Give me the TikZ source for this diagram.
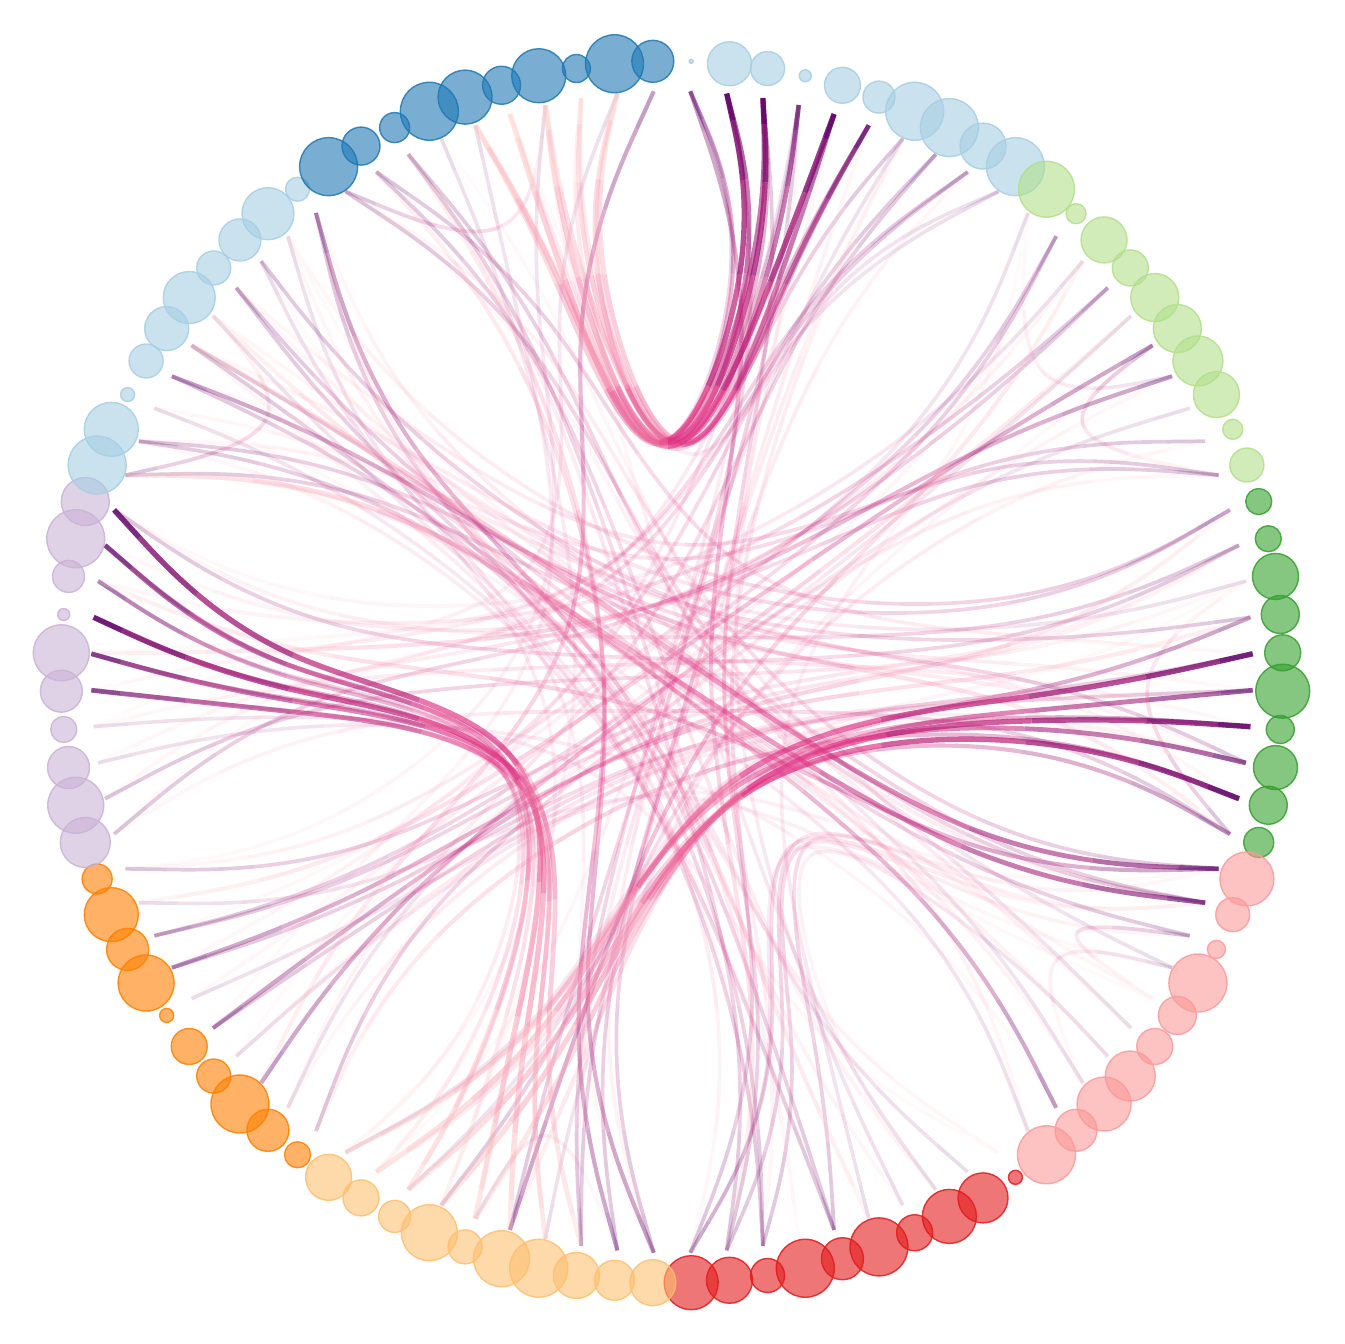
\documentclass[tikz,border=0pt]{standalone}
\begin{document}
\definecolor{grp0}{HTML}{A6CEE3}
\definecolor{grp1}{HTML}{B2DF8A}
\definecolor{grp2}{HTML}{33A02C}
\definecolor{grp3}{HTML}{FB9A99}
\definecolor{grp4}{HTML}{E31A1C}
\definecolor{grp5}{HTML}{FDBF6F}
\definecolor{grp6}{HTML}{FF7F00}
\definecolor{grp7}{HTML}{CAB2D6}
\definecolor{grp8}{HTML}{A6CEE3}
\definecolor{grp9}{HTML}{1F78B4}
\definecolor{g0}{RGB}{99,4,106}
\definecolor{g1}{RGB}{129,13,111}
\definecolor{g2}{RGB}{160,22,116}
\definecolor{g3}{RGB}{190,31,120}
\definecolor{g4}{RGB}{222,48,130}
\definecolor{g5}{RGB}{234,95,150}
\definecolor{g6}{RGB}{244,135,170}
\definecolor{g7}{RGB}{249,162,180}
\definecolor{g8}{RGB}{251,183,187}
\definecolor{g9}{RGB}{252,200,196}
\newcount\hpidx
\def\hbet{0.76}
\newcommand\hpiece[4]{%
  \pgfmathsetmacro\hptt{(\the\hpidx+0.5)/\hptotal}%
  \pgfmathtruncatemacro\hzci{min(9,int(\hptt*10))}%
  \pgfmathsetmacro\hop{\healpha*(1-0.58*\hptt)}%
  \draw[line width=\hewpt pt, draw=g\hzci, draw opacity=\hop] #1 .. controls #2 and #3 .. #4;%
  \global\advance\hpidx by 1\relax}
\newcommand\hbez[8]{%
  \pgfmathsetmacro\zax{(#1+#3)/2}\pgfmathsetmacro\zay{(#2+#4)/2}%
  \pgfmathsetmacro\zbx{(#3+#5)/2}\pgfmathsetmacro\zby{(#4+#6)/2}%
  \pgfmathsetmacro\zcx{(#5+#7)/2}\pgfmathsetmacro\zcy{(#6+#8)/2}%
  \pgfmathsetmacro\zdx{(\zax+\zbx)/2}\pgfmathsetmacro\zdy{(\zay+\zby)/2}%
  \pgfmathsetmacro\zex{(\zbx+\zcx)/2}\pgfmathsetmacro\zey{(\zby+\zcy)/2}%
  \pgfmathsetmacro\zmx{(\zdx+\zex)/2}\pgfmathsetmacro\zmy{(\zdy+\zey)/2}%
  \hpiece{(#1,#2)}{(\zax,\zay)}{(\zdx,\zdy)}{(\zmx,\zmy)}%
  \hpiece{(\zmx,\zmy)}{(\zex,\zey)}{(\zcx,\zcy)}{(#7,#8)}}
\newcommand\hbsp[6]{%
  \pgfmathsetmacro\zcax{(2*#1+#3)/3}\pgfmathsetmacro\zcay{(2*#2+#4)/3}%
  \pgfmathsetmacro\zcbx{(#1+2*#3)/3}\pgfmathsetmacro\zcby{(#2+2*#4)/3}%
  \pgfmathsetmacro\zenx{(#1+4*#3+#5)/6}\pgfmathsetmacro\zeny{(#2+4*#4+#6)/6}%
  \hbez{\zsx}{\zsy}{\zcax}{\zcay}{\zcbx}{\zcby}{\zenx}{\zeny}%
  \let\zsx\zenx\let\zsy\zeny}
\newcommand\hedge[3]{%
  \pgfmathtruncatemacro\zgs{int((#1+0.5)/10)}%
  \pgfmathtruncatemacro\zgt{int((#2+0.5)/10)}%
  \pgfmathsetmacro\pax{672+581*sin(1.8+3.6*#1)}%
  \pgfmathsetmacro\pay{672-581*cos(1.8+3.6*#1)}%
  \pgfmathsetmacro\pbx{672+581*sin(1.8+3.6*#2)}%
  \pgfmathsetmacro\pby{672-581*cos(1.8+3.6*#2)}%
  \pgfmathsetmacro\gsx{672+387*sin(18+36*\zgs)}%
  \pgfmathsetmacro\gsy{672-387*cos(18+36*\zgs)}%
  \pgfmathsetmacro\gtx{672+387*sin(18+36*\zgt)}%
  \pgfmathsetmacro\gty{672-387*cos(18+36*\zgt)}%
  \ifcase#3\relax\or\def\healpha{0.14}\def\hewpt{0.9}%
  \or\def\healpha{0.24}\def\hewpt{0.93}%
  \or\def\healpha{0.4}\def\hewpt{1.03}%
  \or\def\healpha{0.66}\def\hewpt{1.2}%
  \or\def\healpha{0.88}\def\hewpt{1.35}\fi
  \global\hpidx=0\relax
  \ifnum\zgs=\zgt\relax
    \def\hptotal{6}%
    \pgfmathsetmacro\qbx{\hbet*\gsx+(1-\hbet)*(\pax+\pbx)/2}%
    \pgfmathsetmacro\qby{\hbet*\gsy+(1-\hbet)*(\pay+\pby)/2}%
    \pgfmathsetmacro\zsx{(5*\pax+\qbx)/6}\pgfmathsetmacro\zsy{(5*\pay+\qby)/6}%
    \hpiece{(e#1)}{(e#1)}{(\zsx,\zsy)}{(\zsx,\zsy)}%
    \hbsp{\pax}{\pay}{\qbx}{\qby}{\pbx}{\pby}%
    \hbsp{\qbx}{\qby}{\pbx}{\pby}{\pbx}{\pby}%
    \hpiece{(\zsx,\zsy)}{(\zsx,\zsy)}{(e#2)}{(e#2)}%
  \else
    \def\hptotal{10}%
    \pgfmathsetmacro\qbx{\hbet*\gsx+(1-\hbet)*(0.75*\pax+0.25*\pbx)}%
    \pgfmathsetmacro\qby{\hbet*\gsy+(1-\hbet)*(0.75*\pay+0.25*\pby)}%
    \pgfmathsetmacro\qcx{\hbet*672+(1-\hbet)*(0.5*\pax+0.5*\pbx)}%
    \pgfmathsetmacro\qcy{\hbet*672+(1-\hbet)*(0.5*\pay+0.5*\pby)}%
    \pgfmathsetmacro\qdx{\hbet*\gtx+(1-\hbet)*(0.25*\pax+0.75*\pbx)}%
    \pgfmathsetmacro\qdy{\hbet*\gty+(1-\hbet)*(0.25*\pay+0.75*\pby)}%
    \pgfmathsetmacro\zsx{(5*\pax+\qbx)/6}\pgfmathsetmacro\zsy{(5*\pay+\qby)/6}%
    \hpiece{(e#1)}{(e#1)}{(\zsx,\zsy)}{(\zsx,\zsy)}%
    \hbsp{\pax}{\pay}{\qbx}{\qby}{\qcx}{\qcy}%
    \hbsp{\qbx}{\qby}{\qcx}{\qcy}{\qdx}{\qdy}%
    \hbsp{\qcx}{\qcy}{\qdx}{\qdy}{\pbx}{\pby}%
    \hbsp{\qdx}{\qdy}{\pbx}{\pby}{\pbx}{\pby}%
    \hpiece{(\zsx,\zsy)}{(\zsx,\zsy)}{(e#2)}{(e#2)}%
  \fi}
\begin{tikzpicture}[x=0.25pt,y=-0.25pt,
  bub/.style={circle, inner sep=0pt, outer sep=0pt, line width=0.35pt, fill opacity=0.6, draw opacity=0.85}]
\useasboundingbox (0,0) rectangle (1344,1344);
% edge end points
\foreach \k in {0,...,99}{%
  \pgfmathsetmacro\exx{672+581*sin(1.8+3.6*\k)}%
  \pgfmathsetmacro\eyy{672-581*cos(1.8+3.6*\k)}%
  \coordinate (e\k) at (\exx,\eyy);}
% edges, faint to strong
\foreach \sa/\ta in {9/95, 49/33, 33/37, 36/42, 16/10, 14/60, 55/51, 3/63, 5/70, 6/58, 9/75, 10/67, 12/79, 17/64, 22/83, 33/88, 35/93, 37/90, 39/82, 41/87, 42/97, 43/1, 44/10, 53/15, 57/22, 59/24, 61/11, 63/27, 65/30, 68/34, 72/38, 73/40, 82/45, 85/47, 87/50, 88/56, 93/59, 94/64, 96/69, 98/73}{\hedge{\sa}{\ta}{1}}
\foreach \sa/\ta in {1/50, 2/47, 3/52, 4/95, 7/66, 8/71, 6/94, 3/95, 5/94, 0/96, 77/59, 74/55, 79/26, 71/22, 70/12, 24/61, 25/63, 27/85, 23/82, 29/22, 21/73, 20/88, 49/31, 48/30, 47/32, 45/31, 31/86, 32/34, 11/65, 13/72, 15/19, 18/81, 19/78, 50/5, 52/8, 56/18, 60/16, 67/19, 69/21, 45/88, 47/89, 48/3, 49/6, 80/85, 80/27, 81/25, 83/36, 84/31, 86/37, 86/43, 89/49, 90/96, 90/35, 91/42, 92/39, 92/46, 81/34, 84/40, 87/28, 91/24, 11/69, 13/77, 7/61, 8/74, 19/86, 21/79, 20/84, 32/80, 30/90, 31/89, 29/70, 66/27, 64/25, 67/21, 48/92, 47/84, 45/81, 52/1, 51/6, 54/4}{\hedge{\sa}{\ta}{2}}
\foreach \sa/\ta in {0/97, 0/48, 5/97, 2/98, 78/53, 77/56, 76/58, 75/57, 26/59, 28/60, 23/54, 29/58, 30/77, 38/85, 15/68, 16/75, 50/91, 51/92, 54/12, 62/14, 64/20, 66/23, 83/29, 89/44, 99/62}{\hedge{\sa}{\ta}{3}}
\foreach \sa/\ta in {1/98, 2/94, 3/97, 4/98, 5/96, 78/57, 75/52, 74/53, 25/55, 27/59, 30/84, 31/80}{\hedge{\sa}{\ta}{4}}
\foreach \sa/\ta in {1/95, 2/96, 4/94, 79/55, 76/54, 24/58, 26/56, 28/57}{\hedge{\sa}{\ta}{5}}
% bubbles
\foreach \k/\r in {0/2,1/22,2/17,3/6,4/18,5/16,6/29,7/29,8/23,9/29,
  10/28,11/10,12/23,13/18,14/24,15/24,16/25,17/23,18/10,19/17,
  20/13,21/13,22/23,23/19,24/18,25/27,26/14,27/22,28/19,29/15,
  30/27,31/17,32/9,33/29,34/19,35/18,36/25,37/27,38/21,39/29,
  40/7,41/25,42/27,43/18,44/29,45/21,46/29,47/17,48/23,49/27,
  50/23,51/20,52/23,53/29,54/28,55/17,56/28,57/16,58/18,59/23,
  60/13,61/21,62/29,63/17,64/18,65/7,66/28,67/21,68/27,69/15,
  70/25,71/28,72/21,73/13,74/21,75/28,76/6,77/16,78/29,79/24,
  80/29,81/27,82/7,83/17,84/22,85/26,86/17,87/21,88/26,89/12,
  90/29,91/19,92/15,93/29,94/27,95/19,96/27,97/14,98/29,99/21}{%
  \pgfmathtruncatemacro\zg{int((\k+0.5)/10)}%
  \pgfmathsetmacro\bxx{672+611*sin(1.8+3.6*\k)}%
  \pgfmathsetmacro\byy{672-611*cos(1.8+3.6*\k)}%
  \pgfmathsetmacro\bdd{\r*0.5}%
  \node[bub, draw=grp\zg, fill=grp\zg, minimum size=\bdd pt] (b\k) at (\bxx,\byy) {};}
\end{tikzpicture}
\end{document}
